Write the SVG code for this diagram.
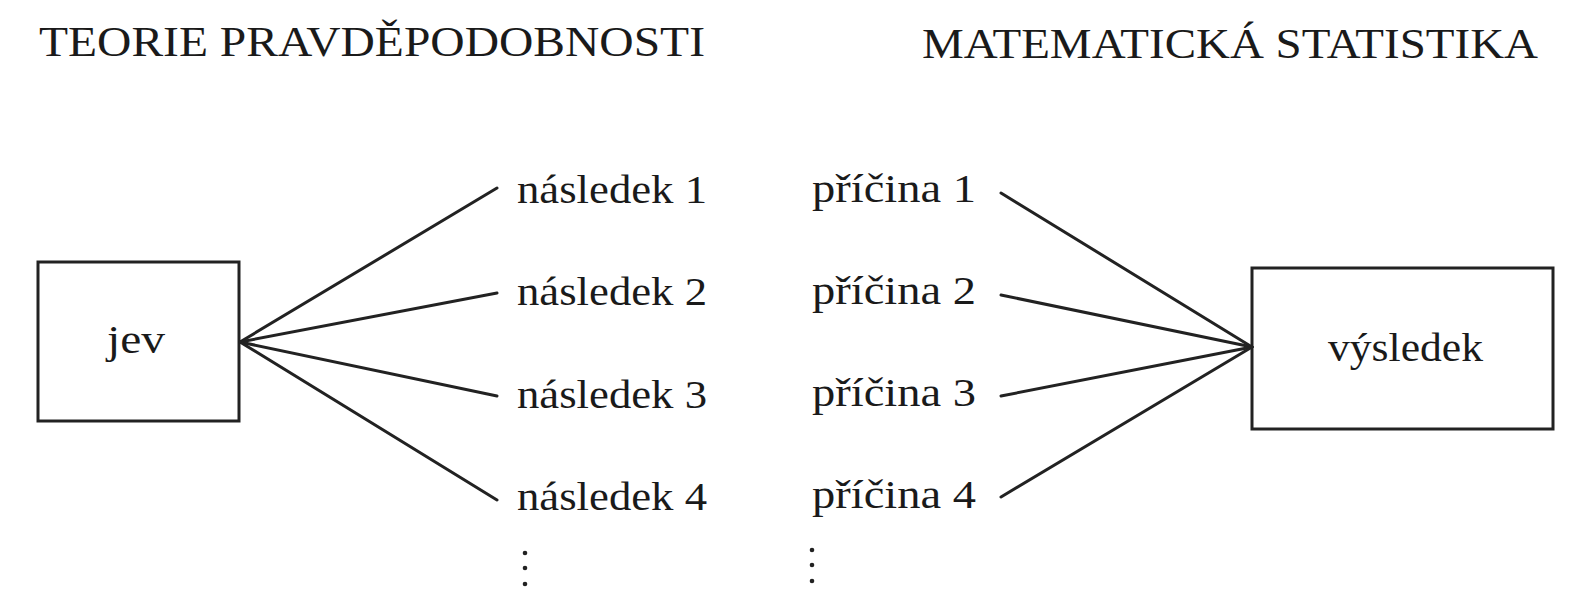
<svg xmlns="http://www.w3.org/2000/svg" width="1571" height="602" viewBox="0 0 1571 602">
<style>
text{font-family:"Liberation Serif","DejaVu Serif",serif;fill:#1a1a1a}
.t{font-size:43px}
.l{font-size:41px}
.box{fill:#fff;stroke:#222;stroke-width:3}
.c line{stroke:#222;stroke-width:3;stroke-linecap:round}
.d{fill:#222}
</style>
<rect width="1571" height="602" fill="#fff"/>
<g id="title-left"><text class="t" x="39" y="56" textLength="666" lengthAdjust="spacingAndGlyphs">TEORIE PRAVDĚPODOBNOSTI</text></g>
<g id="title-right"><text class="t" x="922" y="58" textLength="616" lengthAdjust="spacingAndGlyphs">MATEMATICKÁ STATISTIKA</text></g>
<g id="jev"><rect class="box" x="38" y="262" width="201" height="159"/><text class="l" x="107" y="353" textLength="58" lengthAdjust="spacingAndGlyphs">jev</text></g>
<g id="vysledek"><rect class="box" x="1252" y="268" width="301" height="161"/><text class="l" x="1328" y="361" textLength="155" lengthAdjust="spacingAndGlyphs">výsledek</text></g>
<g id="nasledek1"><text class="l" x="517" y="203" textLength="190" lengthAdjust="spacingAndGlyphs">následek 1</text></g>
<g id="nasledek2"><text class="l" x="517" y="305" textLength="190" lengthAdjust="spacingAndGlyphs">následek 2</text></g>
<g id="nasledek3"><text class="l" x="517" y="408" textLength="190" lengthAdjust="spacingAndGlyphs">následek 3</text></g>
<g id="nasledek4"><text class="l" x="517" y="510" textLength="190" lengthAdjust="spacingAndGlyphs">následek 4</text></g>
<g id="pricina1"><text class="l" x="812" y="202" textLength="164" lengthAdjust="spacingAndGlyphs">příčina 1</text></g>
<g id="pricina2"><text class="l" x="812" y="304" textLength="164" lengthAdjust="spacingAndGlyphs">příčina 2</text></g>
<g id="pricina3"><text class="l" x="812" y="406" textLength="164" lengthAdjust="spacingAndGlyphs">příčina 3</text></g>
<g id="pricina4"><text class="l" x="812" y="508" textLength="164" lengthAdjust="spacingAndGlyphs">příčina 4</text></g>
<g id="dots-left"><circle class="d" cx="525" cy="553" r="2.3"/><circle class="d" cx="525" cy="568" r="2.3"/><circle class="d" cx="525" cy="584" r="2.3"/></g>
<g id="dots-right"><circle class="d" cx="812" cy="550" r="2.3"/><circle class="d" cx="812" cy="565" r="2.3"/><circle class="d" cx="812" cy="581" r="2.3"/></g>
<g id="connectors" class="c">
<line x1="240" y1="342" x2="497" y2="188"/>
<line x1="240" y1="342" x2="497" y2="293"/>
<line x1="240" y1="342" x2="497" y2="396"/>
<line x1="240" y1="342" x2="497" y2="500"/>
<line x1="1001" y1="193" x2="1252" y2="347"/>
<line x1="1001" y1="295" x2="1252" y2="347"/>
<line x1="1001" y1="396" x2="1252" y2="347"/>
<line x1="1001" y1="497" x2="1252" y2="347"/>
</g>
</svg>
